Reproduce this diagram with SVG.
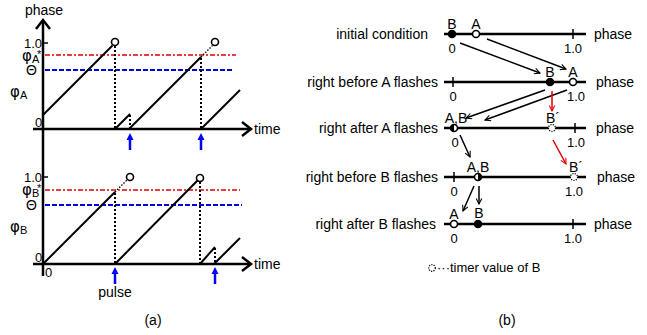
<svg xmlns="http://www.w3.org/2000/svg" width="647" height="335" viewBox="0 0 647 335">
<style>
text{font-family:"Liberation Sans",Arial,sans-serif;fill:#000}
.t{font-size:14px}
.n{font-size:13px}
.lbl{font-size:14px;text-anchor:end}
.c{text-anchor:middle}
.phi{font-family:"DejaVu Sans",sans-serif;font-size:15px}
.sub{font-family:"Liberation Sans",Arial,sans-serif;font-size:11px}
.star{font-size:11px}
.ax{stroke:#000;stroke-width:2.5;fill:none}
.ramp{stroke:#000;stroke-width:2;fill:none}
.dot{stroke:#000;stroke-width:2;stroke-dasharray:2,2;fill:none}
.dot1{stroke:#000;stroke-width:1.3;stroke-dasharray:1.5,1.5;fill:none}
.red{stroke:#e00000;stroke-width:1.6;stroke-dasharray:5,2,2,2;fill:none}
.blue{stroke:#0000e0;stroke-width:2;stroke-dasharray:5,2;fill:none}
.oc{fill:#fff;stroke:#000;stroke-width:1.6}
.fc{fill:#000;stroke:#000;stroke-width:1.6}
.dc{fill:#fff;stroke:#000;stroke-width:1.2;stroke-dasharray:1.2,1.2}
.pl{stroke:#000;stroke-width:2.5;fill:none}
.tick{stroke:#000;stroke-width:1.5}
.arr{stroke:#000;stroke-width:1.5;fill:none;marker-end:url(#ah)}
.arrr{stroke:#e00000;stroke-width:1.5;fill:none;marker-end:url(#ahr)}
.pulse{stroke:#0000ff;stroke-width:2.5}
</style>
<defs>
<marker id="ah" viewBox="0 0 10 10" refX="9" refY="5" markerWidth="7" markerHeight="7" orient="auto" markerUnits="userSpaceOnUse">
<path d="M1,1 L9,5 L1,9" fill="none" stroke="#000" stroke-width="1.5"/>
</marker>
<marker id="ahr" viewBox="0 0 10 10" refX="9" refY="5" markerWidth="7" markerHeight="7" orient="auto" markerUnits="userSpaceOnUse">
<path d="M1,1 L9,5 L1,9" fill="none" stroke="#e00000" stroke-width="1.5"/>
</marker>
<g id="blueArrow">
<line x1="0" y1="0" x2="0" y2="-11" class="pulse"/>
<polygon points="-3.5,-10 3.5,-10 0,-17" fill="#0000ff"/>
</g>
</defs>

<!-- (a) panel -->
<g id="panel-a">
<g id="axes-a">
<line x1="43" y1="22" x2="43" y2="276" class="ax"/>
<polyline points="36,29 43,20 50,29" class="ax"/>
<line x1="33" y1="129" x2="250" y2="129" class="ax"/>
<polyline points="242,122 251,129 242,136" class="ax"/>
<line x1="33" y1="264" x2="250" y2="264" class="ax"/>
<polyline points="242,257 251,264 242,271" class="ax"/>
<line x1="42" y1="43" x2="48" y2="43" class="tick" stroke-width="2"/>
<line x1="42" y1="177" x2="48" y2="177" class="tick" stroke-width="2"/>
</g>
<g id="labels-a">
<text x="25" y="15" class="t">phase</text>
<text x="24" y="47.5" class="n">1.0</text>
<text x="22" y="61" class="phi">φ<tspan class="sub" dy="2">A</tspan></text>
<text x="37" y="58" class="star">*</text>
<text x="26" y="75" class="t">Θ</text>
<text x="10" y="97" class="phi">φ<tspan class="sub" dy="2">A</tspan></text>
<text x="35" y="127" class="n">0</text>
<text x="254" y="134" class="t">time</text>
<text x="24" y="181.5" class="n">1.0</text>
<text x="22" y="195" class="phi">φ<tspan class="sub" dy="2">B</tspan></text>
<text x="37" y="192" class="star">*</text>
<text x="26" y="210" class="t">Θ</text>
<text x="10" y="232" class="phi">φ<tspan class="sub" dy="2">B</tspan></text>
<text x="35" y="262" class="n">0</text>
<text x="45" y="277" class="n">0</text>
<text x="254" y="269" class="t">time</text>
<text x="115" y="297" class="t c">pulse</text>
<text x="153" y="325" class="t c">(a)</text>
</g>
<g id="thresholds">
<line x1="45" y1="55" x2="236" y2="55" class="red"/>
<line x1="45" y1="70" x2="232" y2="70" class="blue"/>
<line x1="45" y1="190" x2="240" y2="190" class="red"/>
<line x1="45" y1="205" x2="242" y2="205" class="blue"/>
</g>
<g id="phaseA">
<line x1="43" y1="115" x2="112.5" y2="45.5" class="ramp"/>
<circle cx="115" cy="42" r="3.5" class="oc"/>
<line x1="115" y1="46" x2="115" y2="128" class="dot"/>
<line x1="115" y1="129" x2="130" y2="114" class="ramp"/>
<line x1="130" y1="115" x2="130" y2="128" class="dot"/>
<line x1="129" y1="129" x2="201" y2="57" class="ramp"/>
<line x1="201" y1="57" x2="212.5" y2="45.5" class="dot1"/>
<circle cx="215" cy="42" r="3.5" class="oc"/>
<line x1="201" y1="58" x2="201" y2="128" class="dot"/>
<line x1="201" y1="129" x2="240" y2="90" class="ramp"/>
<use href="#blueArrow" x="130" y="150"/>
<use href="#blueArrow" x="201" y="150"/>
</g>
<g id="phaseB">
<line x1="43" y1="264" x2="115" y2="192" class="ramp"/>
<line x1="115" y1="192" x2="127.5" y2="179.5" class="dot1"/>
<circle cx="130" cy="177" r="3.5" class="oc"/>
<line x1="115" y1="193" x2="115" y2="263" class="dot"/>
<line x1="115" y1="264" x2="197.5" y2="180.5" class="ramp"/>
<circle cx="200" cy="178" r="3.5" class="oc"/>
<line x1="200" y1="182" x2="200" y2="263" class="dot"/>
<line x1="200" y1="264" x2="215" y2="247" class="ramp"/>
<line x1="215" y1="248" x2="215" y2="263" class="dot"/>
<line x1="214" y1="264" x2="240" y2="238" class="ramp"/>
<use href="#blueArrow" x="115" y="284"/>
<use href="#blueArrow" x="215" y="284"/>
</g>
</g>

<!-- (b) panel -->
<g id="row1">
<text x="428" y="39" class="lbl">initial condition</text>
<line x1="444" y1="34" x2="586" y2="34" class="pl"/>
<line x1="573" y1="29" x2="573" y2="39" class="tick"/>
<circle cx="452" cy="34" r="3.5" class="fc"/>
<circle cx="476" cy="34" r="3.5" class="oc"/>
<text x="452" y="29" class="t c">B</text>
<text x="476" y="29" class="t c">A</text>
<text x="452" y="53" class="n c">0</text>
<text x="573" y="53" class="n c">1.0</text>
<text x="594" y="39" class="t">phase</text>
</g>
<g id="row2">
<text x="438" y="87" class="lbl">right before A flashes</text>
<line x1="444" y1="82" x2="586" y2="82" class="pl"/>
<line x1="453" y1="77" x2="453" y2="87" class="tick"/>
<circle cx="550" cy="82" r="3.5" class="fc"/>
<circle cx="573" cy="82" r="3.5" class="oc"/>
<text x="550" y="77" class="t c">B</text>
<text x="573" y="77" class="t c">A</text>
<text x="453" y="101" class="n c">0</text>
<text x="576" y="101" class="n c">1.0</text>
<text x="596" y="87" class="t">phase</text>
</g>
<g id="row3">
<text x="438" y="133" class="lbl">right after A flashes</text>
<line x1="444" y1="128" x2="586" y2="128" class="pl"/>
<line x1="575" y1="123" x2="575" y2="133" class="tick"/>
<circle cx="454" cy="128" r="3.5" class="oc"/>
<path d="M454,124.5 A3.5,3.5 0 0 0 454,131.5 Z" fill="#000"/>
<circle cx="552" cy="128" r="3.5" class="dc"/>
<text x="456" y="123" class="t c">A,B</text>
<text x="553" y="123" class="t c">B´</text>
<text x="455" y="147" class="n c">0</text>
<text x="576" y="147" class="n c">1.0</text>
<text x="596" y="133" class="t">phase</text>
</g>
<g id="row4">
<text x="438" y="182" class="lbl">right before B flashes</text>
<line x1="444" y1="177" x2="586" y2="177" class="pl"/>
<line x1="454" y1="172" x2="454" y2="182" class="tick"/>
<circle cx="478" cy="177" r="3.5" class="oc"/>
<path d="M478,173.5 A3.5,3.5 0 0 1 478,180.5 Z" fill="#000"/>
<circle cx="574" cy="177" r="3.5" class="dc"/>
<text x="478" y="172" class="t c">A,B</text>
<text x="576" y="172" class="t c">B´</text>
<text x="454" y="196" class="n c">0</text>
<text x="574" y="196" class="n c">1.0</text>
<text x="597" y="182" class="t">phase</text>
</g>
<g id="row5">
<text x="436" y="229" class="lbl">right after B flashes</text>
<line x1="444" y1="224" x2="586" y2="224" class="pl"/>
<line x1="573" y1="219" x2="573" y2="229" class="tick"/>
<circle cx="454" cy="224" r="3.5" class="oc"/>
<circle cx="478" cy="224" r="3.5" class="fc"/>
<text x="454" y="219" class="t c">A</text>
<text x="479" y="218" class="t c">B</text>
<text x="454" y="243" class="n c">0</text>
<text x="573" y="243" class="n c">1.0</text>
<text x="594" y="229" class="t">phase</text>
</g>
<g id="connectors">
<line x1="460" y1="43" x2="540" y2="73" class="arr"/>
<line x1="487" y1="39" x2="566" y2="69" class="arr"/>
<line x1="545" y1="90" x2="466" y2="118" class="arr"/>
<line x1="567" y1="90" x2="485" y2="120" class="arr"/>
<line x1="552" y1="91" x2="552" y2="111" class="arrr"/>
<line x1="460" y1="135" x2="470" y2="157" class="arr"/>
<line x1="553" y1="140" x2="566" y2="164" class="arrr"/>
<line x1="474" y1="186" x2="463" y2="211" class="arr"/>
<line x1="479" y1="186" x2="479" y2="204" class="arr"/>
</g>
<g id="legend">
<circle cx="432" cy="268" r="3.3" class="dc"/>
<text x="437" y="272" class="n">···timer value of B</text>
<text x="507" y="325" class="t c">(b)</text>
</g>
</svg>
